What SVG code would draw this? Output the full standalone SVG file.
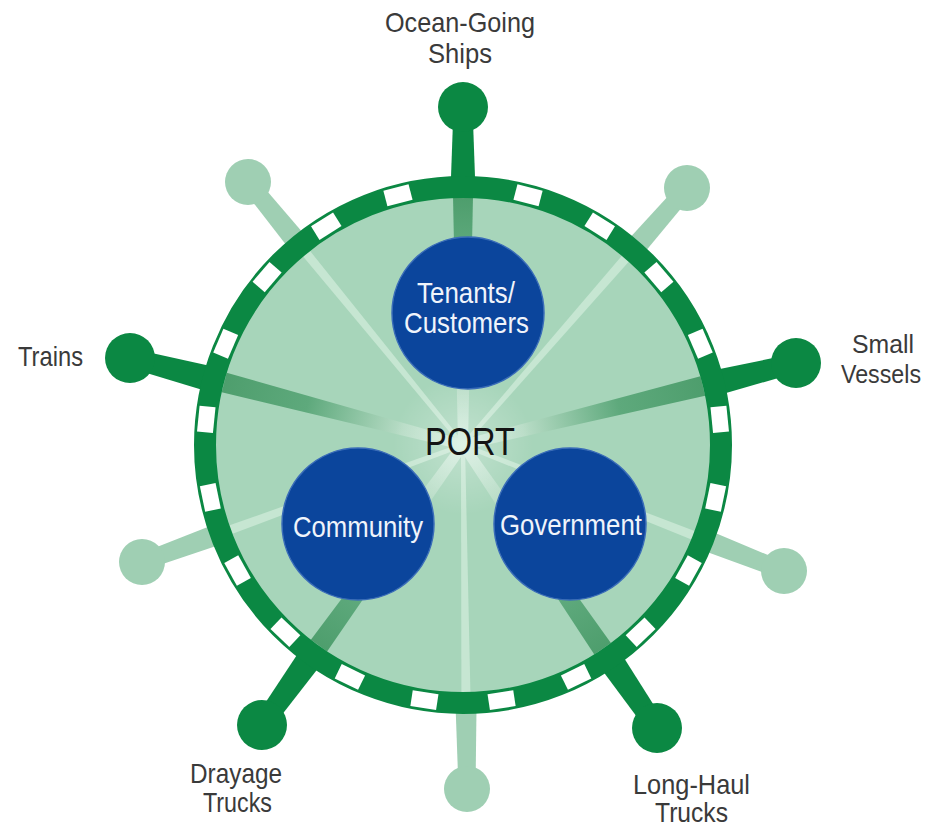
<svg xmlns="http://www.w3.org/2000/svg" width="934" height="827" viewBox="0 0 934 827">
<defs>
<style>
.dk{fill:#0b8843}
.lt{fill:#9fcfb3}
.pale{fill:#c6e6d2}
.lbl{font-family:"Liberation Sans",Arial,sans-serif;font-size:28px;fill:#3a3a3a}
.sv{font-size:26px}
.in{font-family:"Liberation Sans",Arial,sans-serif;font-size:29px;fill:#f0f4fb}
.port{font-family:"Liberation Sans",Arial,sans-serif;font-size:39px;fill:#141414}
.blue{fill:#0b459c;stroke:#3a6cb8;stroke-width:1.5}
.wb{fill:#ffffff}
</style>
<linearGradient id="gTr" gradientUnits="userSpaceOnUse" x1="224" y1="382" x2="463" y2="445">
<stop offset="0" stop-color="#4e9e6d"/><stop offset="0.35" stop-color="#5ea97c"/><stop offset="0.75" stop-color="#b9ddc7"/><stop offset="1" stop-color="#d0ebdb"/>
</linearGradient>
<linearGradient id="gSv" gradientUnits="userSpaceOnUse" x1="703" y1="386" x2="463" y2="445">
<stop offset="0" stop-color="#4e9e6d"/><stop offset="0.35" stop-color="#5ea97c"/><stop offset="0.75" stop-color="#b9ddc7"/><stop offset="1" stop-color="#d0ebdb"/>
</linearGradient>
<linearGradient id="gTop" gradientUnits="userSpaceOnUse" x1="463" y1="198" x2="463" y2="445">
<stop offset="0" stop-color="#4e9e6d"/><stop offset="0.2" stop-color="#5ea97c"/><stop offset="0.75" stop-color="#b9ddc7"/><stop offset="1" stop-color="#d0ebdb"/>
</linearGradient>
<linearGradient id="gDr" gradientUnits="userSpaceOnUse" x1="319" y1="646" x2="463" y2="445">
<stop offset="0" stop-color="#4e9e6d"/><stop offset="0.25" stop-color="#5ea97c"/><stop offset="0.75" stop-color="#b9ddc7"/><stop offset="1" stop-color="#d0ebdb"/>
</linearGradient>
<linearGradient id="gLh" gradientUnits="userSpaceOnUse" x1="603" y1="649" x2="463" y2="445">
<stop offset="0" stop-color="#4e9e6d"/><stop offset="0.25" stop-color="#5ea97c"/><stop offset="0.75" stop-color="#b9ddc7"/><stop offset="1" stop-color="#d0ebdb"/>
</linearGradient>
<radialGradient id="glow" cx="463" cy="445" r="70" gradientUnits="userSpaceOnUse">
<stop offset="0" stop-color="#ffffff" stop-opacity="0.3"/><stop offset="1" stop-color="#ffffff" stop-opacity="0"/>
</radialGradient>
</defs>

<!-- spokes outside the wheel (connectors) -->
<g id="connectors">
<polygon class="lt" points="612.4,256.8 629.0,271.2 693.4,193.6 680.6,182.4"/>
<polygon class="lt" points="690.4,522.5 682.4,542.9 780.9,578.9 787.1,563.1"/>
<polygon class="lt" points="454.8,685 476.8,685 475.5,789 458.5,789"/>
<polygon class="lt" points="233.8,516.8 241.4,537.4 144.9,570.0 139.1,554.0"/>
<polygon class="lt" points="319.6,252.2 302.6,266.2 241.4,187.4 254.6,176.6"/>
<polygon class="dk" points="450,205 476,205 472.5,107 453.5,107"/>
<polygon class="dk" points="692.9,374.5 699.3,400.7 798.3,372.2 793.7,353.8"/>
<polygon class="dk" points="609.8,635.4 587.6,650.6 649.2,733.4 664.8,722.6"/>
<polygon class="dk" points="312.1,632.0 334.1,647.8 269.7,730.5 254.3,719.5"/>
<polygon class="dk" points="234.3,371.2 227.5,397.4 127.6,367.2 132.4,348.8"/>
</g>

<!-- knobs -->
<g id="knob-ocean"><circle class="dk" cx="463" cy="107" r="25"/></g>
<g id="knob-small-vessels"><circle class="dk" cx="796" cy="363" r="25"/></g>
<g id="knob-long-haul"><circle class="dk" cx="657" cy="728" r="25"/></g>
<g id="knob-drayage"><circle class="dk" cx="262" cy="725" r="25"/></g>
<g id="knob-trains"><circle class="dk" cx="130" cy="358" r="25"/></g>
<g id="knob-light-ur"><circle class="lt" cx="687" cy="188" r="23"/></g>
<g id="knob-light-lr"><circle class="lt" cx="784" cy="571" r="23"/></g>
<g id="knob-light-b"><circle class="lt" cx="467" cy="789" r="23"/></g>
<g id="knob-light-ll"><circle class="lt" cx="142" cy="562" r="23"/></g>
<g id="knob-light-ul"><circle class="lt" cx="248" cy="182" r="23"/></g>

<!-- wheel -->
<g id="port">
<circle cx="463" cy="445" r="250" fill="#a7d5ba"/>
<polygon class="pale" points="464.5,446.3 461.5,443.7 621.9,255.8 628.7,261.8"/>
<polygon class="pale" points="462.3,446.9 463.7,443.1 694.6,531.0 691.4,539.4"/>
<polygon class="pale" points="461,445 465,445 470.4,692 461.4,692"/>
<polygon class="pale" points="462.3,443.1 463.7,446.9 232.6,533.7 229.6,525.3"/>
<polygon class="pale" points="464.5,443.7 461.5,446.3 303.1,256.6 310.1,251.0"/>
<polygon fill="url(#gTr)" points="226.7,372.8 221.7,392.2 461.7,449.8 464.3,440.2"/>
<polygon fill="url(#gSv)" points="705.2,395.7 700.4,376.3 461.8,440.1 464.2,449.9"/>
<polygon fill="url(#gTop)" points="453,196 473,196 468,445 458,445"/>
<polygon fill="url(#gDr)" points="310.9,639.8 327.1,651.4 467.1,447.9 458.9,442.1"/>
<polygon fill="url(#gLh)" points="594.3,654.5 610.9,643.1 467.1,442.2 458.9,447.8"/>
<circle cx="463" cy="445" r="70" fill="url(#glow)"/>
<circle cx="463" cy="445" r="258" fill="none" stroke="#0b8843" stroke-width="22"/>
<g transform="translate(463 445)">
<rect class="wb" x="-13" y="-266" width="26" height="16" transform="rotate(14.6)"/>
<rect class="wb" x="-13" y="-266" width="26" height="16" transform="rotate(32.0)"/>
<rect class="wb" x="-13" y="-266" width="26" height="16" transform="rotate(49.4)"/>
<rect class="wb" x="-13" y="-266" width="26" height="16" transform="rotate(66.9)"/>
<rect class="wb" x="-13" y="-266" width="26" height="16" transform="rotate(84.3)"/>
<rect class="wb" x="-13" y="-266" width="26" height="16" transform="rotate(101.7)"/>
<rect class="wb" x="-13" y="-266" width="26" height="16" transform="rotate(119.1)"/>
<rect class="wb" x="-13" y="-266" width="26" height="16" transform="rotate(136.5)"/>
<rect class="wb" x="-13" y="-266" width="26" height="16" transform="rotate(154.0)"/>
<rect class="wb" x="-13" y="-266" width="26" height="16" transform="rotate(171.4)"/>
<rect class="wb" x="-13" y="-266" width="26" height="16" transform="rotate(-14.6)"/>
<rect class="wb" x="-13" y="-266" width="26" height="16" transform="rotate(-32.0)"/>
<rect class="wb" x="-13" y="-266" width="26" height="16" transform="rotate(-49.4)"/>
<rect class="wb" x="-13" y="-266" width="26" height="16" transform="rotate(-66.9)"/>
<rect class="wb" x="-13" y="-266" width="26" height="16" transform="rotate(-84.3)"/>
<rect class="wb" x="-13" y="-266" width="26" height="16" transform="rotate(-101.7)"/>
<rect class="wb" x="-13" y="-266" width="26" height="16" transform="rotate(-119.1)"/>
<rect class="wb" x="-13" y="-266" width="26" height="16" transform="rotate(-136.5)"/>
<rect class="wb" x="-13" y="-266" width="26" height="16" transform="rotate(-154.0)"/>
<rect class="wb" x="-13" y="-266" width="26" height="16" transform="rotate(-171.4)"/>
</g>
<text class="port" x="425" y="455" textLength="90" lengthAdjust="spacingAndGlyphs">PORT</text>
</g>

<!-- inner nodes -->
<g id="tenants">
<circle class="blue" cx="468" cy="313" r="76"/>
<text class="in" x="417" y="303" textLength="98" lengthAdjust="spacingAndGlyphs">Tenants/</text>
<text class="in" x="404" y="333" textLength="125" lengthAdjust="spacingAndGlyphs">Customers</text>
</g>
<g id="community">
<circle class="blue" cx="358" cy="524" r="76"/>
<text class="in" x="293" y="537" textLength="130" lengthAdjust="spacingAndGlyphs">Community</text>
</g>
<g id="government">
<circle class="blue" cx="570" cy="524" r="76"/>
<text class="in" x="500" y="535" textLength="142" lengthAdjust="spacingAndGlyphs">Government</text>
</g>

<!-- outer labels -->
<g id="label-ocean">
<text class="lbl" x="385" y="32" textLength="150" lengthAdjust="spacingAndGlyphs">Ocean-Going</text>
<text class="lbl" x="428" y="63" textLength="64" lengthAdjust="spacingAndGlyphs">Ships</text>
</g>
<g id="label-trains">
<text class="lbl" x="18" y="366" textLength="65" lengthAdjust="spacingAndGlyphs">Trains</text>
</g>
<g id="label-small-vessels">
<text class="lbl sv" x="852" y="353" textLength="62" lengthAdjust="spacingAndGlyphs">Small</text>
<text class="lbl sv" x="841" y="383" textLength="80" lengthAdjust="spacingAndGlyphs">Vessels</text>
</g>
<g id="label-drayage">
<text class="lbl" x="190" y="783" textLength="92" lengthAdjust="spacingAndGlyphs">Drayage</text>
<text class="lbl" x="203" y="812" textLength="69" lengthAdjust="spacingAndGlyphs">Trucks</text>
</g>
<g id="label-long-haul">
<text class="lbl" x="633" y="794" textLength="117" lengthAdjust="spacingAndGlyphs">Long-Haul</text>
<text class="lbl" x="655" y="822" textLength="73" lengthAdjust="spacingAndGlyphs">Trucks</text>
</g>
</svg>
